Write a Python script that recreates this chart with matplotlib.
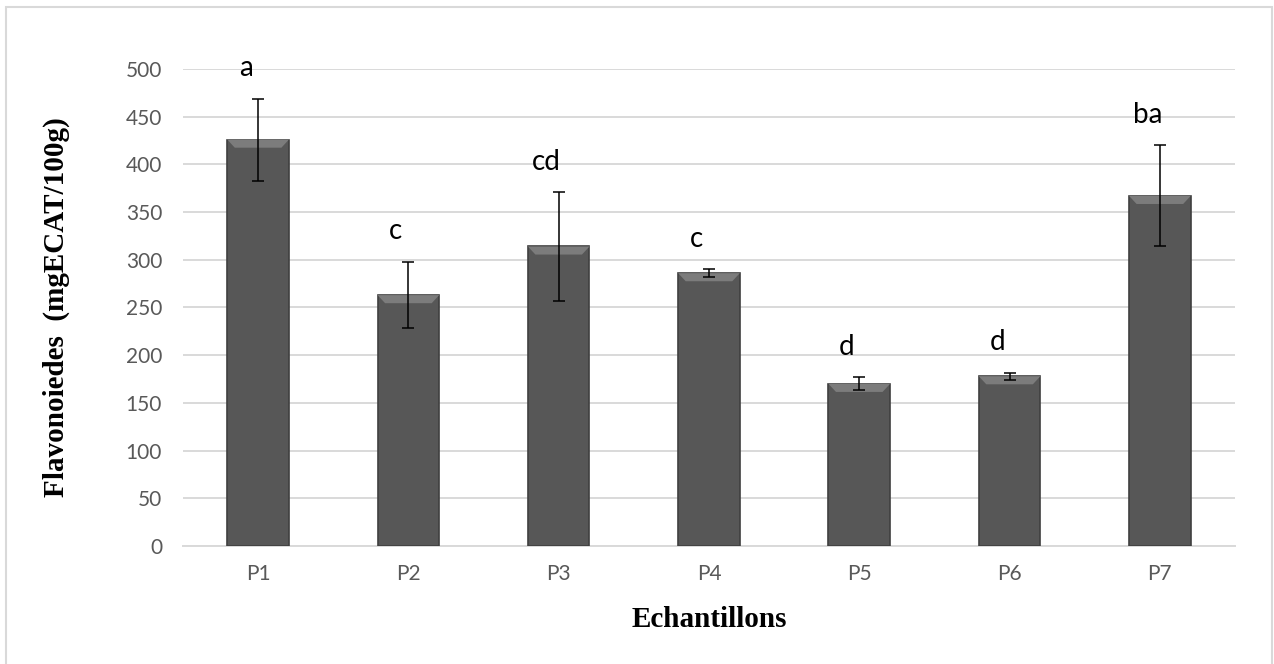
import numpy as np
import matplotlib
matplotlib.use("Agg")
import matplotlib.pyplot as plt
from matplotlib.patches import Rectangle

# data
samples = ["P1", "P2", "P3", "P4", "P5", "P6", "P7"]
flavonoids = [426, 263, 314, 286, 170, 178, 367]
errors = [43, 35, 57, 4, 7, 3.5, 53]
groups = ["a", "c", "cd", "c", "d", "d", "ba"]

fig = plt.figure(figsize=(12.74, 6.64), dpi=100)
ax = fig.add_axes([0.1436, 0.1777, 0.8258, 0.7184])

x = np.arange(len(samples))
means = np.array(flavonoids)
errs = np.array(errors)
w = 0.41

# main bars
ax.bar(x, means, width=w, color="#575757", edgecolor="#404040",
       linewidth=1.2, zorder=3)

# bevelled top face of each bar (trapezoid just under the top edge)
dx, dy = 0.05, 8.5
for xi, m in zip(x, means):
    ax.fill([xi - w / 2, xi + w / 2, xi + w / 2 - dx, xi - w / 2 + dx],
            [m, m, m - dy, m - dy], color="#7c7c7c", lw=0, zorder=4)

ax.errorbar(x, means, yerr=errs, fmt="none", ecolor="black",
            elinewidth=1.1, capsize=4, capthick=1.1, zorder=5)

# significance letters above the error bars
for xi, top, g in zip(x, means + errs, groups):
    ax.annotate(g, xy=(xi, top), xytext=(-9, 22), textcoords="offset points",
                ha="center", va="center", fontsize=20, family="Lato",
                color="black")

ax.set_xlim(-0.5, len(samples) - 0.5)
ax.set_ylim(0, 500)
ax.set_yticks(np.arange(0, 501, 50))
ax.set_xticks(x)
ax.set_xticklabels(samples)

ax.yaxis.grid(True, color="#d9d9d9", linewidth=1.4, zorder=0)
ax.set_axisbelow(True)
for side in ["top", "right", "left"]:
    ax.spines[side].set_visible(False)
ax.spines["bottom"].set_color("#d9d9d9")
ax.spines["bottom"].set_linewidth(1.4)

ax.tick_params(axis="both", length=0, labelsize=15, labelcolor="#595959")
ax.tick_params(axis="x", pad=13)
ax.tick_params(axis="y", pad=15)
for lab in ax.get_xticklabels() + ax.get_yticklabels():
    lab.set_family("Lato")

ax.set_xlabel("Echantillons", fontsize=21, fontweight="bold",
              family="Liberation Serif")
ax.xaxis.set_label_coords(0.5, -0.126)
ax.set_ylabel("Flavonoiedes  (mgECAT/100g)", fontsize=21, fontweight="bold",
              family="Liberation Serif")
ax.yaxis.set_label_coords(-0.107, 0.5)

# light frame around the chart area
fig.patches.append(Rectangle((6 / 1274, -0.02), 1266 / 1274, 1.02 - 6.5 / 664,
                             transform=fig.transFigure, fill=False,
                             edgecolor="#d9d9d9", linewidth=1.5))

fig.savefig("out.png", dpi=100, facecolor="white")
